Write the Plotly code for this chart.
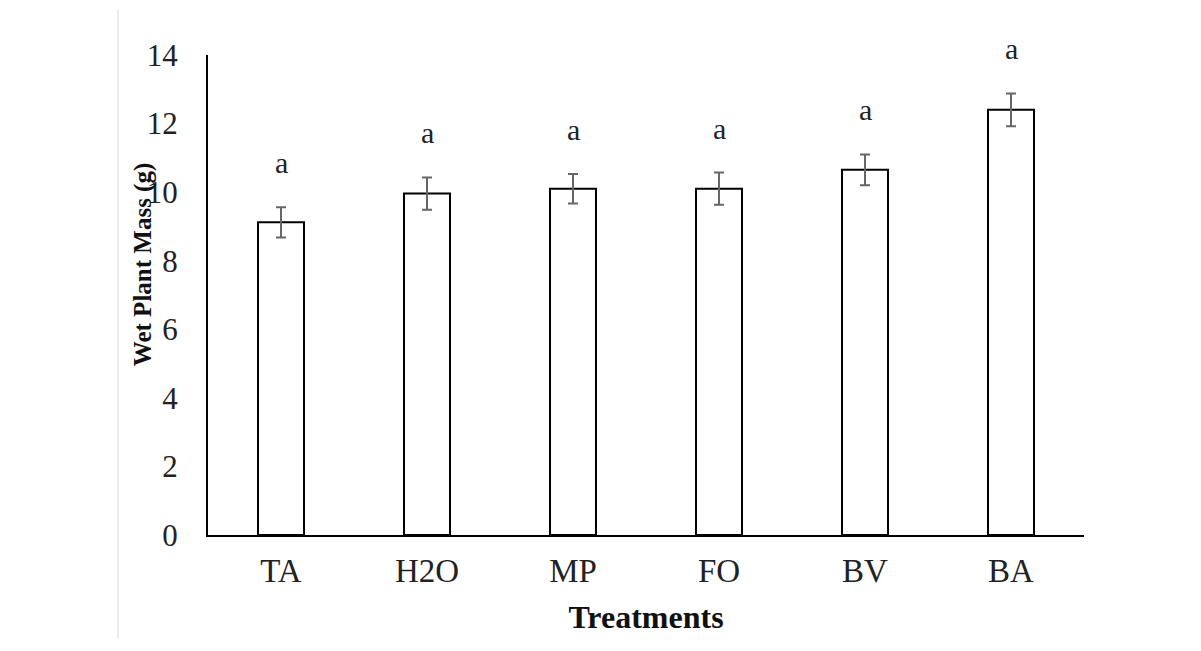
"""
Wet plant mass by treatment
"""

import plotly.graph_objs as go

treatments = ["TA", "H2O", "MP", "FO", "BV", "BA"]
mass = [9.12, 9.96, 10.1, 10.1, 10.65, 12.4]
err = [0.44, 0.47, 0.43, 0.47, 0.45, 0.48]
letters = ["a", "a", "a", "a", "a", "a"]

serif = "Liberation Serif"
ymax = 14

fig = go.Figure()
fig.add_trace(go.Bar(
    x=treatments, y=mass,
    marker=dict(color="white", line=dict(color="black", width=2)),
    error_y=dict(type="data", array=err, visible=True,
                 color="#666666", thickness=2, width=5),
    showlegend=False,
))

# significance letters a little above each error bar;
# paper coords so the BA one above the axis top is not dropped
for t, m, e, s in zip(treatments, mass, err, letters):
    fig.add_annotation(x=t, xref="x", y=(m + e + 1.3) / ymax, yref="paper",
                       text=s, showarrow=False, yanchor="middle",
                       font=dict(family=serif, size=30, color="#222222"))

# y title drawn by hand, it sits higher than the middle and overlaps the ticks
fig.add_annotation(x=-0.074, y=0.5625, xref="paper", yref="paper",
                   text="<b>Wet Plant Mass (g)</b>", textangle=-90,
                   showarrow=False, xanchor="center", yanchor="middle",
                   font=dict(family=serif, size=25, color="#111111"))

# thin grey border line on the left of the page
fig.add_shape(type="line", xref="paper", yref="paper",
              x0=-0.1027, x1=-0.1027, y0=1.094, y1=-0.2146,
              line=dict(color="#d9d9d9", width=1))

fig.update_layout(
    width=1201, height=651,
    margin=dict(l=200, r=125, t=47, b=124),
    plot_bgcolor="white", paper_bgcolor="white",
    bargap=0.685,
    font=dict(family=serif, color="#222222"),
)
fig.update_xaxes(
    showline=True, linecolor="black", linewidth=2,
    ticks="", tickfont=dict(family=serif, size=33),
    ticklabelstandoff=5,
    title=dict(text="<b>Treatments</b>", font=dict(family=serif, size=32, color="#111111"),
               standoff=18),
)
fig.update_yaxes(
    range=[0, ymax], dtick=2, showgrid=False, zeroline=False,
    showline=True, linecolor="black", linewidth=2,
    ticks="", tickfont=dict(family=serif, size=31),
    ticklabelstandoff=22,
)

fig.write_html("out.html")
